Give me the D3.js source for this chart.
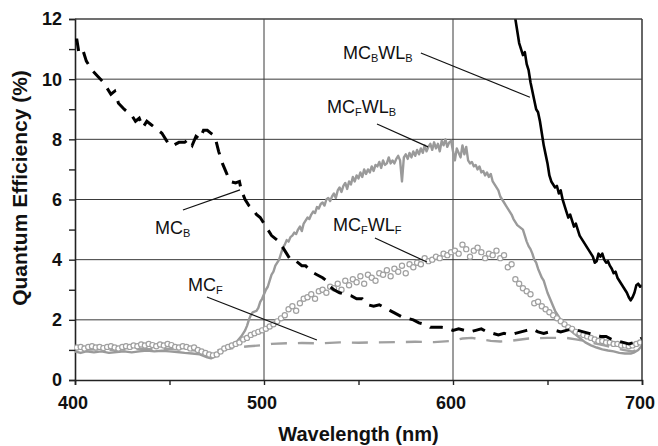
<!DOCTYPE html>
<html>
<head>
<meta charset="utf-8">
<script src="https://cdn.jsdelivr.net/npm/d3@7"></script>
<style>
  body { margin: 0; background: #fff; }
  svg { display: block; font-family: "Liberation Sans", Arial, sans-serif; }
</style>
</head>
<body>
<svg width="658" height="446"></svg>
<script>
// values: [wavelength nm, quantum efficiency %]
const xTicks = [400, 500, 600, 700];
const yTicks = [0, 2, 4, 6, 8, 10, 12];

const mcB = [[400,11.3],[401,11.3],[402,10.9],[404,11.0],[406,10.6],[409,10.3],[412,10.1],[415,9.9],[417,9.7],[419,9.5],[421,9.6],[423,9.2],[426,9.0],[428,8.9],[430,8.8],[432,8.6],[434,8.7],[436,8.4],[438,8.6],[440,8.5],[442,8.4],[446,8.2],[448,8.0],[450,7.8],[452,7.8],[455,7.9],[458,7.9],[460,8.0],[462,7.8],[464,8.1],[466,8.0],[468,8.3],[470,8.3],[472,8.2],[474,8.1],[476,7.6],[478,7.2],[480,6.9],[482,6.6],[485,6.55],[487,6.6],[488,6.3],[490,6.0],[492,5.8],[494,5.7],[496,5.5],[498,5.4],[501,5.1],[504,4.8],[506,4.7],[508,4.6],[510,4.4],[512,4.2],[514,4.0],[516,4.0],[518,3.9],[520,3.8],[522,3.8],[525,3.6],[528,3.5],[531,3.4],[533,3.3],[535,3.1],[537,3.0],[540,2.9],[543,2.85],[546,2.8],[549,2.7],[552,2.7],[555,2.5],[558,2.45],[561,2.5],[564,2.4],[567,2.3],[570,2.2],[573,2.1],[576,2.05],[579,2.0],[582,1.9],[585,1.85],[588,1.75],[591,1.75],[594,1.75],[597,1.72],[600,1.65],[603,1.7],[606,1.65],[609,1.6],[612,1.65],[615,1.7],[618,1.6],[621,1.55],[624,1.5],[627,1.55],[630,1.5],[633,1.55],[636,1.6],[639,1.65],[642,1.7],[645,1.6],[648,1.55],[651,1.6],[654,1.65],[657,1.6],[660,1.65],[663,1.7],[666,1.65],[669,1.6],[672,1.55],[675,1.5],[678,1.45],[681,1.45],[684,1.35],[687,1.3],[690,1.25],[693,1.2],[696,1.25],[698,1.3],[700,1.4]];

const mcBWLB = [[632,12.3],[633,12.0],[634,11.6],[635,11.2],[636,11.0],[637,10.8],[638,10.9],[639,10.5],[640,10.3],[641,9.9],[642,9.6],[643,9.3],[644,9.0],[645,8.9],[646,8.6],[647,8.2],[648,7.8],[649,7.5],[650,7.2],[651,6.8],[652,6.6],[653,6.5],[654,6.4],[655,6.45],[656,6.2],[657,6.3],[658,6.0],[659,5.8],[660,5.6],[661,5.4],[662,5.5],[663,5.3],[664,5.1],[665,5.2],[666,5.0],[667,4.8],[668,4.7],[669,4.6],[670,4.5],[671,4.4],[672,4.3],[673,4.2],[674,4.1],[675,3.9],[676,3.95],[677,4.2],[678,4.1],[679,4.2],[680,4.0],[681,3.9],[682,3.95],[683,3.8],[684,3.7],[685,3.55],[686,3.6],[687,3.4],[688,3.3],[689,3.2],[690,3.1],[691,3.0],[692,2.9],[693,2.75],[694,2.65],[695,2.75],[696,2.9],[697,3.15],[698,3.2],[699,3.1],[700,3.15]];

const mcFWLB = [[400,0.95],[403,0.9],[406,0.95],[410,0.92],[414,0.95],[418,0.9],[422,0.93],[426,0.95],[430,0.92],[434,0.95],[438,0.98],[442,0.95],[446,0.97],[450,0.95],[454,0.93],[458,0.9],[462,0.88],[466,0.85],[468,0.8],[470,0.75],[472,0.72],[474,0.78],[476,0.85],[478,0.95],[480,1.05],[482,1.15],[484,1.2],[486,1.3],[488,1.45],[490,1.65],[491,1.8],[492,2.0],[493,2.15],[494,2.25],[496,2.3],[497,2.4],[498,2.6],[499,2.7],[500,2.85],[501,3.0],[502,3.1],[503,3.3],[504,3.5],[505,3.6],[506,3.8],[507,3.9],[508,4.0],[509,4.2],[510,4.4],[511,4.5],[512,4.65],[513,4.6],[514,4.75],[515,4.8],[516,4.9],[517,4.85],[518,5.0],[519,5.1],[520,4.95],[521,5.2],[522,5.3],[523,5.4],[524,5.35],[525,5.5],[526,5.6],[527,5.55],[528,5.75],[529,5.7],[530,5.85],[531,5.9],[532,5.8],[533,6.0],[534,6.05],[535,5.95],[536,6.1],[537,6.2],[538,6.05],[539,6.3],[540,6.4],[541,6.25],[542,6.45],[543,6.55],[544,6.35],[545,6.6],[546,6.5],[547,6.75],[548,6.6],[549,6.8],[550,6.7],[551,6.9],[552,6.75],[553,7.0],[554,6.85],[555,7.0],[556,6.9],[557,7.1],[558,6.95],[559,7.15],[560,7.1],[561,7.25],[562,7.05],[563,7.3],[564,7.15],[565,7.2],[566,7.4],[567,7.2],[568,7.3],[569,7.2],[570,7.35],[571,7.45],[572,7.3],[573,6.6],[574,7.4],[575,7.5],[576,7.35],[577,7.55],[578,7.4],[579,7.6],[580,7.45],[581,7.65],[582,7.5],[583,7.7],[584,7.55],[585,7.8],[586,7.6],[587,7.75],[588,7.85],[589,7.65],[590,7.9],[591,7.7],[592,7.85],[593,7.6],[594,7.95],[595,7.8],[596,8.0],[597,7.75],[598,7.9],[599,7.95],[600,7.6],[601,7.3],[602,7.7],[603,7.55],[604,7.4],[605,7.8],[606,7.5],[607,7.75],[608,7.3],[609,7.2],[610,7.25],[611,7.1],[612,7.15],[613,7.0],[614,7.1],[615,6.9],[616,6.95],[617,6.8],[618,6.9],[619,6.75],[620,6.85],[621,6.6],[622,6.5],[623,6.4],[624,6.3],[625,6.1],[626,6.0],[627,5.9],[628,5.8],[629,5.7],[630,5.6],[631,5.5],[632,5.35],[633,5.25],[634,5.15],[635,5.1],[636,5.05],[637,5.0],[638,4.8],[639,4.6],[640,4.45],[641,4.35],[642,4.2],[643,4.0],[644,3.9],[645,3.7],[646,3.55],[647,3.4],[648,3.3],[649,3.1],[650,2.9],[651,2.75],[652,2.6],[653,2.45],[654,2.3],[655,2.2],[656,2.1],[657,2.0],[658,1.9],[660,1.75],[662,1.65],[664,1.55],[667,1.4],[670,1.25],[673,1.15],[676,1.08],[679,1.02],[682,0.98],[685,0.95],[688,0.9],[691,0.88],[694,0.88],[696,0.92],[698,1.0],[700,1.15]];

const mcFWLF = [[401,1.08],[403,1.1],[405,1.05],[407,1.1],[409,1.12],[411,1.08],[413,1.1],[415,1.06],[417,1.1],[419,1.12],[421,1.08],[423,1.05],[425,1.1],[427,1.12],[429,1.1],[431,1.15],[433,1.12],[435,1.18],[437,1.15],[439,1.2],[441,1.16],[443,1.12],[445,1.18],[447,1.15],[449,1.2],[451,1.16],[453,1.1],[455,1.08],[457,1.12],[459,1.1],[461,1.05],[463,1.08],[465,1.0],[467,0.95],[469,0.9],[471,0.85],[473,0.82],[475,0.85],[477,0.95],[479,1.05],[481,1.1],[483,1.15],[485,1.2],[487,1.25],[489,1.35],[491,1.4],[493,1.5],[495,1.55],[497,1.6],[499,1.65],[501,1.7],[503,1.78],[505,1.85],[507,1.95],[509,2.05],[511,2.15],[513,2.35],[515,2.45],[517,2.3],[519,2.55],[521,2.7],[523,2.75],[525,2.85],[527,2.7],[529,2.95],[531,3.0],[533,2.9],[535,3.1],[537,3.05],[539,3.2],[541,3.0],[543,3.3],[545,3.15],[547,3.35],[549,3.25],[551,3.45],[553,3.2],[555,3.5],[557,3.4],[559,3.3],[561,3.55],[563,3.5],[565,3.65],[567,3.45],[569,3.7],[571,3.6],[573,3.8],[575,3.55],[577,3.85],[579,3.75],[581,3.9],[583,3.85],[585,4.05],[587,3.95],[589,4.0],[591,4.1],[593,4.05],[595,4.2],[597,4.15],[599,4.25],[601,4.3],[603,4.2],[605,4.5],[607,4.35],[609,4.1],[611,4.3],[613,4.4],[615,4.25],[617,4.05],[619,4.2],[621,4.15],[623,4.3],[625,4.05],[627,4.15],[629,3.75],[631,3.85],[633,3.35],[635,3.2],[637,3.05],[639,2.95],[641,2.85],[643,2.55],[645,2.6],[647,2.45],[649,2.35],[651,2.25],[653,2.15],[655,2.05],[657,1.95],[659,1.85],[661,1.75],[663,1.7],[665,1.6],[667,1.55],[669,1.5],[671,1.45],[673,1.4],[675,1.35],[677,1.3],[679,1.3],[681,1.25],[683,1.25],[685,1.2],[687,1.2],[689,1.15],[691,1.15],[693,1.12],[695,1.15],[697,1.2],[699,1.25]];

const mcF = [[404,1.0],[412,1.02],[420,1.0],[430,1.03],[440,1.02],[450,1.04],[460,1.0],[470,0.95],[478,1.0],[485,1.08],[492,1.12],[498,1.15],[504,1.2],[512,1.22],[520,1.23],[530,1.22],[540,1.25],[550,1.24],[560,1.25],[570,1.26],[580,1.27],[590,1.26],[600,1.3],[605,1.38],[610,1.4],[615,1.35],[620,1.3],[625,1.28],[630,1.3],[640,1.38],[650,1.4],[660,1.4],[665,1.35],[670,1.3],[675,1.22],[680,1.15],[685,1.08],[690,1.0],[695,0.95],[700,1.05]];

// label text, subscripts, label anchor and leader line ends in data units
const labels = [
  {parts: [["MC", 0], ["B", 1], ["WL", 0], ["B", 1]], x: 541.8, y: 10.87, from: [583, 10.87], to: [640.7, 9.4]},
  {parts: [["MC", 0], ["F", 1], ["WL", 0], ["B", 1]], x: 533.3, y: 9.08, from: [559.8, 8.51], to: [586.8, 7.75]},
  {parts: [["MC", 0], ["B", 1]], x: 442.3, y: 5.06, from: [457.1, 5.65], to: [487.3, 6.32]},
  {parts: [["MC", 0], ["F", 1], ["WL", 0], ["F", 1]], x: 536.5, y: 5.15, from: [558.7, 4.72], to: [586.2, 3.92]},
  {parts: [["MC", 0], ["F", 1]], x: 459.8, y: 3.16, from: [469.8, 2.76], to: [528, 1.33]}
];

let svg = d3.select("svg");
const svgWidth = +svg.attr("width");
const svgHeight = +svg.attr("height");
const margin = {top: 19, right: 16, bottom: 66, left: 75};
const w = svgWidth - margin.left - margin.right;
const h = svgHeight - margin.top - margin.bottom;

let x = d3.scaleLinear().domain([400, 700]).range([0, w]);
let y = d3.scaleLinear().domain([0, 12]).range([h, 0]);

let g = svg.append("g")
    .attr("transform", "translate(" + margin.left + "," + margin.top + ")");

svg.append("defs").append("clipPath")
    .attr("id", "plot-clip")
    .append("rect")
    .attr("width", w)
    .attr("height", h);

// grid
g.selectAll(".hgrid")
    .data(yTicks.filter(function(d) { return d > 0; }))
    .enter()
    .append("line")
    .attr("x1", 0).attr("x2", w)
    .attr("y1", function(d) { return y(d); })
    .attr("y2", function(d) { return y(d); })
    .style("stroke", "#3a3a3a")
    .style("stroke-width", 1);

g.selectAll(".vgrid")
    .data(xTicks.filter(function(d) { return d > 400; }))
    .enter()
    .append("line")
    .attr("y1", 0).attr("y2", h)
    .attr("x1", function(d) { return x(d); })
    .attr("x2", function(d) { return x(d); })
    .style("stroke", "#3a3a3a")
    .style("stroke-width", 1);

// axes
let xAxis = g.append("g")
    .attr("transform", "translate(0," + h + ")")
    .call(d3.axisBottom(x).tickValues(d3.range(400, 701, 50)).tickSize(5).tickFormat(""));
let yAxis = g.append("g")
    .call(d3.axisLeft(y).tickValues(d3.range(0, 13, 1)).tickSize(6).tickFormat(""));
[xAxis, yAxis].forEach(function(a) {
    a.select(".domain").style("stroke", "#222").style("stroke-width", 1.6);
    a.selectAll(".tick line").style("stroke", "#222").style("stroke-width", 1.4);
});

g.selectAll(".xlab")
    .data(xTicks)
    .enter()
    .append("text")
    .attr("x", function(d) { return x(d) - 2; })
    .attr("y", h + 29)
    .attr("text-anchor", "middle")
    .style("font-size", "18px")
    .style("font-weight", "bold")
    .style("fill", "#111")
    .text(function(d) { return d; });

g.selectAll(".ylab")
    .data(yTicks)
    .enter()
    .append("text")
    .attr("x", -13)
    .attr("y", function(d) { return y(d); })
    .attr("dy", "0.36em")
    .attr("text-anchor", "end")
    .style("font-size", "18px")
    .style("font-weight", "bold")
    .style("fill", "#111")
    .text(function(d) { return d; });

// series
let line = d3.line()
    .x(function(d) { return x(d[0]); })
    .y(function(d) { return y(d[1]); });

let plot = g.append("g").attr("clip-path", "url(#plot-clip)");

plot.append("path")
    .datum(mcF)
    .attr("d", line)
    .style("fill", "none")
    .style("stroke", "#a0a0a0")
    .style("stroke-width", 2.4)
    .style("stroke-dasharray", "16,11");

plot.append("path")
    .datum(mcFWLB)
    .attr("d", line)
    .style("fill", "none")
    .style("stroke", "#9a9a9a")
    .style("stroke-width", 2.4)
    .style("stroke-linejoin", "round");

plot.selectAll("circle")
    .data(mcFWLF)
    .enter()
    .append("circle")
    .attr("cx", function(d) { return x(d[0]); })
    .attr("cy", function(d) { return y(d[1]); })
    .attr("r", 2.6)
    .style("fill", "#fff")
    .style("stroke", "#a0a0a0")
    .style("stroke-width", 1.2);

plot.append("path")
    .datum(mcB)
    .attr("d", line)
    .style("fill", "none")
    .style("stroke", "#000")
    .style("stroke-width", 3)
    .style("stroke-dasharray", "13,9");

plot.append("path")
    .datum(mcBWLB)
    .attr("d", line)
    .style("fill", "none")
    .style("stroke", "#000")
    .style("stroke-width", 2.6)
    .style("stroke-linejoin", "round");

// frame top/right
g.append("line")
    .attr("x1", 0).attr("x2", w).attr("y1", 0).attr("y2", 0)
    .style("stroke", "#444").style("stroke-width", 1.2);
g.append("line")
    .attr("x1", w).attr("x2", w).attr("y1", 0).attr("y2", h)
    .style("stroke", "#444").style("stroke-width", 1.2);

// labels with leader lines
g.selectAll(".leader")
    .data(labels)
    .enter()
    .append("line")
    .attr("x1", function(d) { return x(d.from[0]); })
    .attr("y1", function(d) { return y(d.from[1]); })
    .attr("x2", function(d) { return x(d.to[0]); })
    .attr("y2", function(d) { return y(d.to[1]); })
    .style("stroke", "#111")
    .style("stroke-width", 1.2);

let labelText = g.selectAll(".series-label")
    .data(labels)
    .enter()
    .append("text")
    .attr("x", function(d) { return x(d.x); })
    .attr("y", function(d) { return y(d.y) + 6; })
    .style("font-size", "18px")
    .style("fill", "#111");
labelText.each(function(d) {
    let t = d3.select(this);
    d.parts.forEach(function(p, i) {
        let prev = i > 0 ? d.parts[i - 1][1] : 0;
        t.append("tspan")
            .attr("dy", p[1] === prev ? 0 : (p[1] ? 3 : -3))
            .style("font-size", p[1] ? "11px" : "18px")
            .text(p[0]);
    });
});

// axis titles
svg.append("text")
    .attr("x", margin.left + w / 2)
    .attr("y", 441)
    .attr("text-anchor", "middle")
    .style("font-size", "20px")
    .style("font-weight", "bold")
    .style("fill", "#111")
    .text("Wavelength (nm)");

svg.append("text")
    .attr("transform", "translate(27,188) rotate(-90)")
    .attr("text-anchor", "middle")
    .style("font-size", "21px")
    .style("font-weight", "bold")
    .style("fill", "#111")
    .text("Quantum Efficiency (%)");
</script>
</body>
</html>
